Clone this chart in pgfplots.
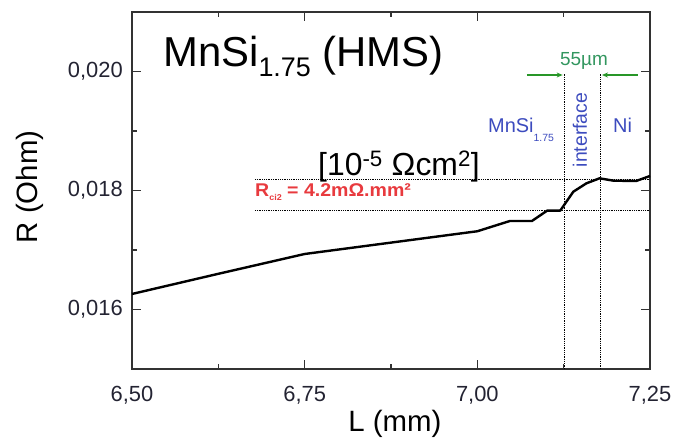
\documentclass[border=0pt]{standalone}
\usepackage{pgfplots}
\pgfplotsset{compat=1.18}
\usetikzlibrary{arrows.meta}
\usepackage{fontspec}
\setmainfont{Liberation Sans}
\definecolor{redtxt}{RGB}{232,58,62}
\definecolor{bluetxt}{RGB}{60,75,190}
\definecolor{greentxt}{RGB}{50,150,95}
\definecolor{arrowgreen}{RGB}{40,150,40}
\definecolor{axisgray}{RGB}{50,50,50}
\definecolor{ticktxt}{RGB}{35,35,50}
\begin{document}
\begin{tikzpicture}
\begin{axis}[
  at={(0,0)}, anchor=south west,
  scale only axis, width=518bp, height=357bp,
  xmin=6.5, xmax=7.25, ymin=0.015, ymax=0.021,
  xtick={6.5,6.75,7,7.25}, minor xtick={6.625,6.875,7.125},
  ytick={0.016,0.018,0.020}, minor ytick={0.017,0.019},
  scaled y ticks=false, scaled x ticks=false,
  axis line style={axisgray, line width=1.2bp},
  every tick/.style={axisgray, line width=1.3bp},
  major tick length=9bp, minor tick length=5.5bp,
  xtick align=inside, ytick align=inside,
  xtick pos=both, ytick pos=both,
  /pgf/number format/assume math mode=true,
  /pgf/number format/use comma,
  x tick label style={/pgf/number format/fixed, /pgf/number format/fixed zerofill, /pgf/number format/precision=2},
  y tick label style={/pgf/number format/fixed, /pgf/number format/fixed zerofill, /pgf/number format/precision=3},
  xticklabel style={font=\fontsize{22}{22}\selectfont, text=ticktxt, inner sep=0pt, anchor=north, yshift=-17bp},
  yticklabel style={font=\fontsize{22}{22}\selectfont, text=ticktxt, inner sep=0pt, anchor=east, xshift=-9bp},
  xlabel={L (mm)}, ylabel={R (Ohm)},
  xlabel style={font=\fontsize{29.5}{29.5}\selectfont, at={(axis description cs:0.5077,-0.1756)}, anchor=base, inner sep=0pt},
  ylabel style={font=\fontsize{29.5}{29.5}\selectfont, at={(axis description cs:-0.1815,0.51)}, anchor=base, inner sep=0pt},
  clip=false,
]
% measured curve
\addplot[black, line width=2.4bp, line join=round] coordinates {
 (6.500,0.016261) (6.625,0.016600) (6.750,0.016933)
 (6.990,0.017300) (7.000,0.017315) (7.047,0.017487) (7.079,0.017487)
 (7.101,0.017661) (7.120,0.017661) (7.139,0.017980) (7.158,0.018121)
 (7.177,0.018205) (7.197,0.018165) (7.230,0.018160) (7.250,0.018244)
};
% dotted guide lines
\addplot[black, densely dotted, line width=0.8bp] coordinates {(7.1255,0.015) (7.1255,0.01996)};
\addplot[black, densely dotted, line width=0.8bp] coordinates {(7.1786,0.015) (7.1786,0.01996)};
\addplot[black, densely dotted, line width=0.8bp] coordinates {(6.678,0.018193) (7.25,0.018193)};
\addplot[black, densely dotted, line width=0.8bp] coordinates {(6.678,0.017661) (7.25,0.017661)};
% arrows
\draw[arrowgreen, line width=1.2bp, -{Stealth[length=6bp,width=5bp]}] (axis cs:7.0719,0.019941) -- (axis cs:7.1235,0.019941);
\draw[arrowgreen, line width=1.2bp, -{Stealth[length=6bp,width=5bp]}] (axis cs:7.2326,0.019941) -- (axis cs:7.1805,0.019941);
% texts
\node[anchor=base west, font=\fontsize{42}{42}\selectfont, inner sep=0pt] at (axis cs:6.5449,0.020076)
  {MnSi\raisebox{-10bp}{\fontsize{27}{27}\selectfont 1.75} (HMS)};
\node[anchor=base west, font=\fontsize{32}{32}\selectfont, inner sep=0pt] at (axis cs:6.7693,0.018244)
  {[10\textsuperscript{-5} Ωcm\textsuperscript{2}]};
\node[anchor=base west, text=redtxt, font=\bfseries\fontsize{18.5}{18.5}\selectfont, inner sep=0pt] at (axis cs:6.6781,0.017891)
  {\scalebox{1.06}[1]{R\raisebox{-4bp}{\fontsize{8.5}{8.5}\selectfont ci2} = 4.2mΩ.mm²}};
\node[anchor=base west, text=bluetxt, font=\fontsize{20}{20}\selectfont, inner sep=0pt] at (axis cs:7.0154,0.018971)
  {MnSi\raisebox{-9bp}{\fontsize{10.5}{10.5}\selectfont 1.75}};
\node[anchor=base west, text=bluetxt, font=\fontsize{20}{20}\selectfont, inner sep=0pt] at (axis cs:7.1964,0.018971) {Ni};
\node[rotate=90, text=bluetxt, font=\fontsize{19.5}{19.5}\selectfont, inner sep=0pt] at (axis cs:7.1486,0.019017) {interface};
\node[anchor=base, text=greentxt, font=\fontsize{19}{19}\selectfont, inner sep=0pt] at (axis cs:7.1544,0.020109) {55µm};
\end{axis}
\pgfresetboundingbox
\path[use as bounding box] (-132bp,-71bp) rectangle (547bp,369bp);
\end{tikzpicture}
\end{document}
